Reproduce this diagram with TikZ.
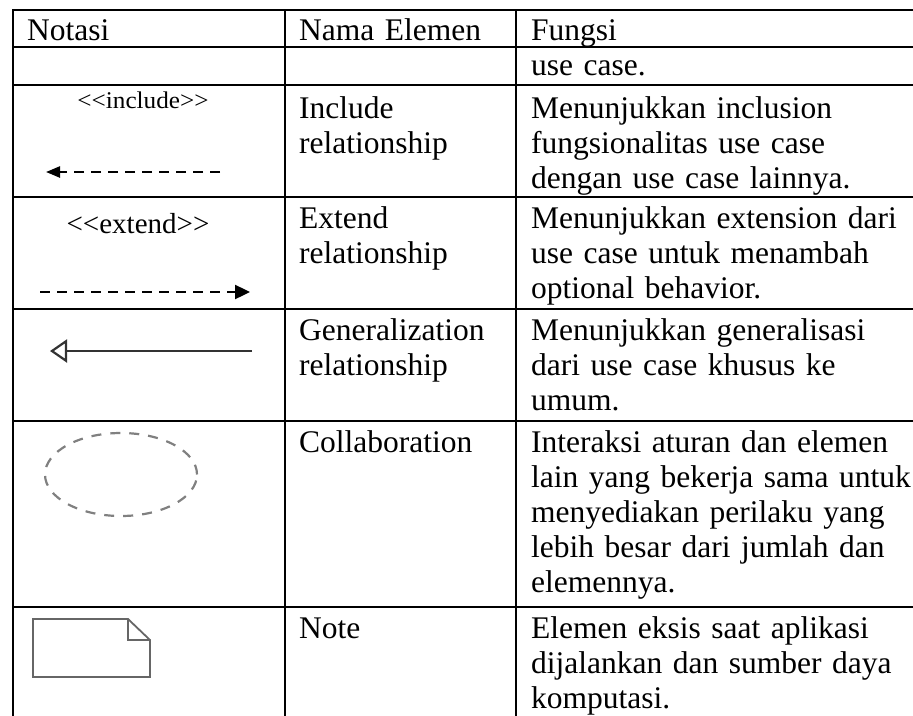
\documentclass[tikz,border=0pt]{standalone}
\usepackage{fontspec}
\setmainfont{Liberation Serif}
\usetikzlibrary{positioning, arrows.meta, shapes.geometric}

\begin{document}
\begin{tikzpicture}[x=1pt, y=-1pt]
        \tikzstyle{cell}=[anchor=base west, inner sep=0pt, align=left, text width=420pt, font=\fontsize{31.5}{35}\selectfont];
        \tikzstyle{rule}=[line width=2.6pt, line cap=rect];
        \tikzstyle{stereo}=[anchor=base, inner sep=0pt];
        \tikzstyle{dashline}=[line width=2.4pt, dash pattern=on 10pt off 7pt];
        \useasboundingbox (0,0) rectangle (913,715);

        % garis tabel
        \foreach \y in {10,47,85,197,309,421,607}
          \draw[rule] (13,\y) -- (913,\y);
        \foreach \x in {13,285,516}
          \draw[rule] (\x,10) -- (\x,715);

        % header
        \node[cell] (notasi) at (27,40) {Notasi};
        \node[cell] (nama) at (299,40) {Nama Elemen};
        \node[cell] (fungsi) at (531,40) {Fungsi};
        \node[cell] (f0) at (531,75) {use case.};

        % include
        \node[stereo, xscale=1.05, font=\fontsize{24}{24}\selectfont] (inc) at (143,108) {<\kern0pt<include>\kern0pt>};
        \coordinate (incs) at (220,172);
        \coordinate (inct) at (46,172);
        \draw[dashline, -{Triangle[length=14pt, width=11pt]}] (incs) -- (inct);
        \node[cell] (n1) at (299,118) {Include\\relationship};
        \node[cell] (f1) at (531,118) {Menunjukkan inclusion\\fungsionalitas use case\\dengan use case lainnya.};

        % extend
        \node[stereo, font=\fontsize{29}{29}\selectfont] (ext) at (138,233) {<\kern0pt<extend>\kern0pt>};
        \coordinate (exts) at (40,292);
        \coordinate (extt) at (250,292);
        \draw[dashline, -{Triangle[length=15pt, width=14pt]}] (exts) -- (extt);
        \node[cell] (n2) at (299,228) {Extend\\relationship};
        \node[cell] (f2) at (531,228) {Menunjukkan extension dari\\use case untuk menambah\\optional behavior.};

        % generalization
        \coordinate (gens) at (252,351);
        \coordinate (gent) at (50,351);
        \draw[line width=2.2pt, black!80, -{Triangle[open, length=17pt, width=23pt]}] (gens) -- (gent);
        \node[cell] (n3) at (299,340) {Generalization\\relationship};
        \node[cell] (f3) at (531,340) {Menunjukkan generalisasi\\dari use case khusus ke\\umum.};

        % collaboration
        \draw[line width=2.2pt, black!50, dash pattern=on 10pt off 9pt] (121,474.5) ellipse [x radius=76pt, y radius=41.5pt];
        \node[cell] (n4) at (299,452) {Collaboration};
        \node[cell] (f4) at (531,452) {Interaksi aturan dan elemen\\lain yang bekerja sama untuk\\menyediakan perilaku yang\\lebih besar dari jumlah dan\\elemennya.};

        % note
        \draw[line width=1.8pt, black!60] (33,619) -- (128,619) -- (150,640) -- (150,677) -- (33,677) -- cycle;
        \draw[line width=1.8pt, black!60] (128,619) -- (128,640) -- (150,640);
        \node[cell] (n5) at (299,638) {Note};
        \node[cell] (f5) at (531,638) {Elemen eksis saat aplikasi\\dijalankan dan sumber daya\\komputasi.};
\end{tikzpicture}
\end{document}
